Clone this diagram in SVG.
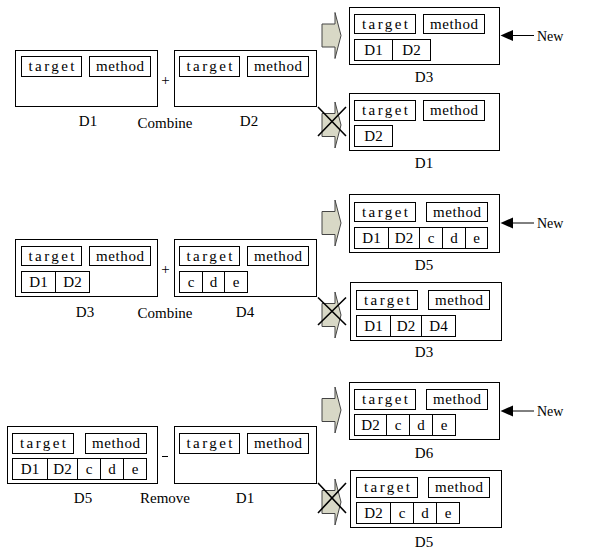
<svg xmlns="http://www.w3.org/2000/svg" width="591" height="557" viewBox="0 0 591 557">
<style>
rect{fill:#fff;stroke:#000;stroke-width:1}
text{font-family:"Liberation Serif","Times New Roman",serif;font-size:15px;fill:#000;text-anchor:middle}
.new{font-size:14px;text-anchor:start}
.fat{fill:#d8d8c6;stroke:#444;stroke-width:1}
.x{stroke:#000;stroke-width:1.6;fill:none}
.ln{stroke:#000;stroke-width:1;fill:none}
</style>
<defs>
<path id="fat" class="fat" d="M322,-11.5 H335 V-23 L341,0 L335,23 V11.5 H322 Z"/>
<path id="ah" d="M0,0 L12.5,-5.5 L12.5,5.5 Z" fill="#000"/>
</defs>
<rect x="0" y="0" width="591" height="557" style="stroke:none"/>

<!-- Row 1 -->
<g id="r1-D1">
<rect x="15.5" y="50.5" width="142" height="56"/>
<rect x="21.5" y="56.5" width="60" height="20"/><text x="51.5" y="71" textLength="46" lengthAdjust="spacing">target</text>
<rect x="89.5" y="56.5" width="61" height="20"/><text x="120" y="71" textLength="48" lengthAdjust="spacing">method</text>
<text x="88" y="126">D1</text>
</g>
<g id="r1-D2">
<rect x="174.5" y="50.5" width="142" height="56"/>
<rect x="179.5" y="56.5" width="60" height="20"/><text x="209.5" y="71" textLength="46" lengthAdjust="spacing">target</text>
<rect x="247.5" y="56.5" width="61" height="20"/><text x="278" y="71" textLength="48" lengthAdjust="spacing">method</text>
<text x="249" y="126">D2</text>
</g>
<g id="r1-op"><text x="165.5" y="85">+</text><text x="165" y="127.5">Combine</text></g>
<g id="r1-D3new">
<rect x="349.5" y="7.5" width="150" height="57"/>
<rect x="354.5" y="14.5" width="61" height="19"/><text x="385" y="28.5" textLength="46" lengthAdjust="spacing">target</text>
<rect x="423.5" y="14.5" width="61" height="19"/><text x="454" y="28.5" textLength="48" lengthAdjust="spacing">method</text>
<rect x="354.5" y="39.5" width="38" height="21"/><text x="373.5" y="55">D1</text>
<rect x="392.5" y="39.5" width="38" height="21"/><text x="411.5" y="55">D2</text>
<text x="424" y="81.5">D3</text>
</g>
<g id="r1-D1old">
<rect x="349.5" y="93.5" width="150" height="57"/>
<rect x="354.5" y="100.5" width="61" height="20"/><text x="385" y="115" textLength="46" lengthAdjust="spacing">target</text>
<rect x="423.5" y="100.5" width="61" height="20"/><text x="454" y="115" textLength="48" lengthAdjust="spacing">method</text>
<rect x="354.5" y="125.5" width="38" height="21"/><text x="373.5" y="141">D2</text>
<text x="424" y="168">D1</text>
</g>

<!-- Row 2 -->
<g id="r2-D3">
<rect x="15.5" y="239.5" width="142" height="57"/>
<rect x="21.5" y="246.5" width="60" height="19"/><text x="51.5" y="260.5" textLength="46" lengthAdjust="spacing">target</text>
<rect x="89.5" y="246.5" width="61" height="19"/><text x="120" y="260.5" textLength="48" lengthAdjust="spacing">method</text>
<rect x="21.5" y="271.5" width="34" height="21"/><text x="38.5" y="287">D1</text>
<rect x="55.5" y="271.5" width="34" height="21"/><text x="72.5" y="287">D2</text>
<text x="85" y="316.5">D3</text>
</g>
<g id="r2-D4">
<rect x="174.5" y="239.5" width="142" height="57"/>
<rect x="179.5" y="246.5" width="60" height="19"/><text x="209.5" y="260.5" textLength="46" lengthAdjust="spacing">target</text>
<rect x="247.5" y="246.5" width="61" height="19"/><text x="278" y="260.5" textLength="48" lengthAdjust="spacing">method</text>
<rect x="179.5" y="271.5" width="23" height="21"/><text x="191" y="286.5">c</text>
<rect x="202.5" y="271.5" width="22" height="21"/><text x="213.5" y="286.5">d</text>
<rect x="224.5" y="271.5" width="23" height="21"/><text x="236" y="286.5">e</text>
<text x="245" y="316.5">D4</text>
</g>
<g id="r2-op"><text x="165.5" y="274">+</text><text x="165" y="318">Combine</text></g>
<g id="r2-D5new">
<rect x="349.5" y="194.5" width="150" height="58"/>
<rect x="354.5" y="202.5" width="61" height="19"/><text x="385" y="216.5" textLength="46" lengthAdjust="spacing">target</text>
<rect x="426.5" y="202.5" width="61" height="19"/><text x="457" y="216.5" textLength="48" lengthAdjust="spacing">method</text>
<rect x="354.5" y="227.5" width="34" height="21"/><text x="371.5" y="243">D1</text>
<rect x="388.5" y="227.5" width="31" height="21"/><text x="404" y="243">D2</text>
<rect x="419.5" y="227.5" width="23" height="21"/><text x="431" y="242.5">c</text>
<rect x="442.5" y="227.5" width="23" height="21"/><text x="454" y="242.5">d</text>
<rect x="465.5" y="227.5" width="22" height="21"/><text x="476.5" y="242.5">e</text>
<text x="424" y="270">D5</text>
</g>
<g id="r2-D3old">
<rect x="350.5" y="282.5" width="151" height="58"/>
<rect x="356.5" y="290.5" width="61" height="19"/><text x="387" y="304.5" textLength="46" lengthAdjust="spacing">target</text>
<rect x="428.5" y="290.5" width="61" height="19"/><text x="459" y="304.5" textLength="48" lengthAdjust="spacing">method</text>
<rect x="356.5" y="315.5" width="34" height="21"/><text x="373.5" y="331">D1</text>
<rect x="390.5" y="315.5" width="31" height="21"/><text x="406" y="331">D2</text>
<rect x="421.5" y="315.5" width="34" height="21"/><text x="438.5" y="331">D4</text>
<text x="424" y="357">D3</text>
</g>

<!-- Row 3 -->
<g id="r3-D5">
<rect x="7.5" y="426.5" width="150" height="57"/>
<rect x="12.5" y="433.5" width="61" height="20"/><text x="43" y="448" textLength="46" lengthAdjust="spacing">target</text>
<rect x="85.5" y="433.5" width="61" height="20"/><text x="116" y="448" textLength="48" lengthAdjust="spacing">method</text>
<rect x="12.5" y="458.5" width="35" height="21"/><text x="30" y="474">D1</text>
<rect x="47.5" y="458.5" width="30" height="21"/><text x="62.5" y="474">D2</text>
<rect x="77.5" y="458.5" width="23" height="21"/><text x="89" y="473.5">c</text>
<rect x="100.5" y="458.5" width="23" height="21"/><text x="112" y="473.5">d</text>
<rect x="123.5" y="458.5" width="23" height="21"/><text x="135" y="473.5">e</text>
<text x="83" y="502.5">D5</text>
</g>
<g id="r3-D1">
<rect x="174.5" y="426.5" width="142" height="57"/>
<rect x="179.5" y="433.5" width="60" height="20"/><text x="209.5" y="448" textLength="46" lengthAdjust="spacing">target</text>
<rect x="247.5" y="433.5" width="61" height="20"/><text x="278" y="448" textLength="48" lengthAdjust="spacing">method</text>
<text x="245" y="502.5">D1</text>
</g>
<g id="r3-op"><line class="ln" x1="162" y1="456.5" x2="168" y2="456.5"/><text x="165" y="502.5">Remove</text></g>
<g id="r3-D6new">
<rect x="349.5" y="382.5" width="150" height="57"/>
<rect x="354.5" y="389.5" width="61" height="20"/><text x="385" y="404" textLength="46" lengthAdjust="spacing">target</text>
<rect x="426.5" y="389.5" width="61" height="20"/><text x="457" y="404" textLength="48" lengthAdjust="spacing">method</text>
<rect x="354.5" y="414.5" width="32" height="21"/><text x="370.5" y="430">D2</text>
<rect x="386.5" y="414.5" width="23" height="21"/><text x="398" y="429.5">c</text>
<rect x="409.5" y="414.5" width="23" height="21"/><text x="421" y="429.5">d</text>
<rect x="432.5" y="414.5" width="23" height="21"/><text x="444" y="429.5">e</text>
<text x="424" y="458">D6</text>
</g>
<g id="r3-D5old">
<rect x="350.5" y="470.5" width="151" height="57"/>
<rect x="356.5" y="477.5" width="61" height="20"/><text x="387" y="492" textLength="46" lengthAdjust="spacing">target</text>
<rect x="428.5" y="477.5" width="61" height="20"/><text x="459" y="492" textLength="48" lengthAdjust="spacing">method</text>
<rect x="356.5" y="502.5" width="34" height="21"/><text x="373.5" y="518">D2</text>
<rect x="390.5" y="502.5" width="23" height="21"/><text x="402" y="517.5">c</text>
<rect x="413.5" y="502.5" width="23" height="21"/><text x="425" y="517.5">d</text>
<rect x="436.5" y="502.5" width="23" height="21"/><text x="448" y="517.5">e</text>
<text x="424" y="547">D5</text>
</g>

<!-- Connectors -->
<g id="connectors">
<use href="#fat" transform="translate(0,35.5)"/>
<use href="#fat" transform="translate(0,125)"/>
<path class="x" d="M318,107 L346,136 M318,136 L346,107"/>
<use href="#fat" transform="translate(0,223)"/>
<use href="#fat" transform="translate(0,315)"/>
<path class="x" d="M318,297.5 L346,325 M318,325 L346,297.5"/>
<use href="#fat" transform="translate(0,410)"/>
<use href="#fat" transform="translate(0,502)"/>
<path class="x" d="M318,483 L346,513 M318,513 L346,483"/>
<line class="ln" x1="534" y1="35.5" x2="510" y2="35.5"/>
<use href="#ah" transform="translate(500.5,35.5)"/>
<line class="ln" x1="534" y1="223" x2="510" y2="223"/>
<use href="#ah" transform="translate(500.5,223)"/>
<line class="ln" x1="534" y1="411" x2="510" y2="411"/>
<use href="#ah" transform="translate(500.5,411)"/>
<text class="new" x="537" y="40.5">New</text>
<text class="new" x="537" y="228">New</text>
<text class="new" x="537" y="416">New</text>
</g>
</svg>
